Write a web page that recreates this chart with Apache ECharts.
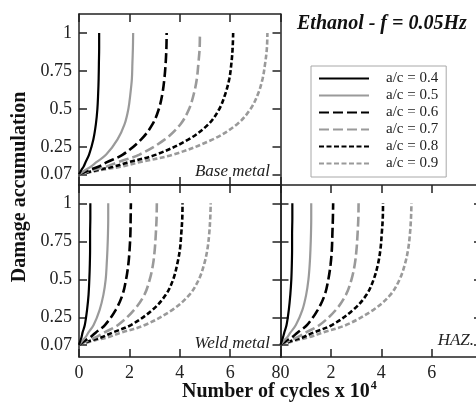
<!DOCTYPE html>
<html>
<head>
<meta charset="utf-8">
<script src="https://cdn.jsdelivr.net/npm/echarts@6/dist/echarts.min.js"></script>
<style>
  html, body { margin: 0; padding: 0; background: #fff; }
  #main { width: 476px; height: 403px; }
</style>
</head>
<body>
<div id="main"></div>
<script>
// damage values shared by every curve (y)
const damage = [0.07, 0.1, 0.12, 0.15, 0.2, 0.3, 0.4, 0.5, 0.6, 0.7, 0.8, 0.9, 1];
const ratios = ['a/c = 0.4', 'a/c = 0.5', 'a/c = 0.6', 'a/c = 0.7', 'a/c = 0.8', 'a/c = 0.9'];
const yTicks = [0.07, 0.25, 0.5, 0.75, 1];

// number of cycles x 10^4, one row per a/c
const baseCycles = [
    [0, 0.10, 0.18, 0.26, 0.40, 0.57, 0.67, 0.73, 0.76, 0.78, 0.79, 0.80, 0.80],
    [0, 0.27, 0.47, 0.69, 1.08, 1.53, 1.81, 1.96, 2.04, 2.10, 2.12, 2.14, 2.15],
    [0, 0.44, 0.77, 1.11, 1.74, 2.47, 2.92, 3.17, 3.31, 3.39, 3.44, 3.47, 3.48],
    [0, 0.60, 1.06, 1.54, 2.40, 3.41, 4.03, 4.37, 4.56, 4.68, 4.74, 4.79, 4.80],
    [0, 0.77, 1.35, 1.96, 3.06, 4.35, 5.14, 5.57, 5.81, 5.97, 6.05, 6.10, 6.12],
    [0, 0.94, 1.65, 2.39, 3.74, 5.31, 6.28, 6.81, 7.11, 7.29, 7.39, 7.46, 7.48]
];
const weldCycles = [
    [0, 0.06, 0.10, 0.14, 0.23, 0.32, 0.38, 0.41, 0.43, 0.44, 0.44, 0.45, 0.45],
    [0, 0.15, 0.26, 0.37, 0.58, 0.82, 0.97, 1.06, 1.10, 1.13, 1.15, 1.16, 1.16],
    [0, 0.26, 0.45, 0.66, 1.03, 1.46, 1.73, 1.87, 1.96, 2.01, 2.04, 2.05, 2.06],
    [0, 0.39, 0.68, 0.99, 1.55, 2.19, 2.60, 2.81, 2.94, 3.01, 3.05, 3.08, 3.09],
    [0, 0.51, 0.90, 1.32, 2.06, 2.92, 3.45, 3.74, 3.90, 4.01, 4.06, 4.10, 4.11],
    [0, 0.65, 1.15, 1.67, 2.62, 3.71, 4.39, 4.76, 4.97, 5.10, 5.17, 5.21, 5.23]
];
const hazCycles = [
    [0, 0.06, 0.10, 0.15, 0.24, 0.33, 0.39, 0.43, 0.45, 0.46, 0.46, 0.47, 0.47],
    [0, 0.15, 0.27, 0.39, 0.61, 0.87, 1.02, 1.11, 1.16, 1.19, 1.21, 1.22, 1.22],
    [0, 0.26, 0.46, 0.67, 1.05, 1.48, 1.76, 1.90, 1.99, 2.04, 2.06, 2.08, 2.09],
    [0, 0.39, 0.68, 0.99, 1.55, 2.20, 2.60, 2.82, 2.95, 3.02, 3.06, 3.09, 3.10],
    [0, 0.51, 0.90, 1.30, 2.04, 2.89, 3.42, 3.70, 3.87, 3.97, 4.02, 4.06, 4.07],
    [0, 0.65, 1.14, 1.66, 2.60, 3.69, 4.37, 4.73, 4.94, 5.07, 5.14, 5.18, 5.20]
];

const serif = '"Liberation Serif", "DejaVu Serif", serif';
const ink = '#222';
const gray = '#9a9a9a';
const styles = [
    { color: '#000', type: 'solid', width: 2.2 },
    { color: gray, type: 'solid', width: 2.2 },
    { color: '#000', type: [10, 4], width: 2.6 },
    { color: gray, type: [10, 4], width: 2.6 },
    { color: '#000', type: [5, 2.5], width: 2.6 },
    { color: gray, type: [5, 2.5], width: 2.6 }
];

let myChart = echarts.init(document.getElementById('main'), null, { renderer: 'canvas' });

const axLine = { show: true, onZero: false, lineStyle: { color: ink, width: 1.5 } };
const axTick = { show: true, inside: true, length: 8, lineStyle: { color: ink, width: 1.5 } };
const lblStyle = { fontFamily: serif, fontSize: 18, color: ink };

function xAxisOf(grid, position, label) {
    return {
        type: 'value', gridIndex: grid, position: position,
        min: 0, max: 8, interval: 2,
        axisLine: axLine, axisTick: axTick, splitLine: { show: false },
        axisLabel: label ? Object.assign({ show: true, margin: 7 }, lblStyle, label) : { show: false }
    };
}
function yAxisOf(grid, position, showLabel, min, max) {
    return {
        type: 'value', gridIndex: grid, position: position,
        min: min, max: max,
        axisLine: axLine,
        axisTick: Object.assign({ customValues: yTicks }, axTick),
        splitLine: { show: false },
        axisLabel: Object.assign({ show: showLabel, margin: 7, customValues: yTicks }, lblStyle)
    };
}

let grids = [
    { left: 79, top: 14, width: 201.5, height: 171 },
    { left: 79, top: 185, width: 201.5, height: 172 },
    { left: 280.5, top: 185, width: 201.5, height: 172 }
].map(g => Object.assign({ show: false, containLabel: false, outerBoundsMode: 'none' }, g));

let xAxes = [
    xAxisOf(0, 'bottom', null), xAxisOf(0, 'top', null),
    xAxisOf(1, 'bottom', { formatter: v => (v === 8 ? '' : String(v)) }), xAxisOf(1, 'top', null),
    xAxisOf(2, 'bottom', { formatter: v => (v === 0 ? '80' : v === 8 ? '' : String(v)) }), xAxisOf(2, 'top', null)
];
let yAxes = [
    yAxisOf(0, 'left', true, 0, 1.125), yAxisOf(0, 'right', false, 0, 1.125),
    yAxisOf(1, 'left', true, -0.01, 1.12), yAxisOf(1, 'right', false, -0.01, 1.12),
    yAxisOf(2, 'left', false, -0.01, 1.12), yAxisOf(2, 'right', false, -0.01, 1.12)
];

let series = [];
[baseCycles, weldCycles, hazCycles].forEach((panel, p) => {
    panel.forEach((cycles, i) => {
        series.push({
            name: ratios[i],
            type: 'line',
            xAxisIndex: p * 2,
            yAxisIndex: p * 2,
            data: damage.map((d, k) => [cycles[k], d]),
            symbol: 'none',
            smooth: 0.35,
            silent: true,
            lineStyle: styles[i],
            itemStyle: { color: styles[i].color },
            z: 10 - i
        });
    });
});

function note(text, x, y, align) {
    return {
        type: 'text', x: x, y: y, silent: true,
        style: { text: text, font: 'italic 17px ' + serif, fill: ink, align: align, verticalAlign: 'middle' }
    };
}

let option = {
    animation: false,
    backgroundColor: '#fff',
    grid: grids,
    xAxis: xAxes,
    yAxis: yAxes,
    legend: {
        data: ratios,
        orient: 'vertical',
        left: 311, top: 66,
        padding: [5, 8, 6, 7],
        itemWidth: 50, itemHeight: 10, itemGap: 2,
        borderColor: '#a8a8a8', borderWidth: 1,
        selectedMode: false,
        itemStyle: { color: 'rgba(0,0,0,0)', borderWidth: 0 },
        textStyle: { fontFamily: serif, fontSize: 15, color: ink, padding: [0, 0, 0, 12] }
    },
    graphic: [
        {
            type: 'text', x: 297, y: 24, silent: true,
            style: { text: 'Ethanol - f = 0.05Hz', font: 'italic bold 20px ' + serif, fill: '#111', align: 'left', verticalAlign: 'middle' }
        },
        {
            type: 'text', x: 20, y: 187, rotation: Math.PI / 2, silent: true,
            style: { text: 'Damage accumulation', font: 'bold 20px ' + serif, fill: '#111', align: 'center', verticalAlign: 'middle' }
        },
        {
            type: 'text', x: 182, y: 392, silent: true,
            style: {
                text: '{a|Number of cycles x 10}{b|4}',
                align: 'left', verticalAlign: 'middle',
                rich: {
                    a: { fontFamily: serif, fontWeight: 'bold', fontSize: 20, fill: '#111', color: '#111' },
                    b: { fontFamily: serif, fontWeight: 'bold', fontSize: 12, fill: '#111', color: '#111', padding: [0, 0, 12, 1] }
                }
            }
        },
        note('Base metal', 270, 172, 'right'),
        note('Weld metal', 270, 344, 'right'),
        note('HAZ.', 474, 341, 'right')
    ],
    series: series
};

myChart.setOption(option, true);
</script>
</body>
</html>
